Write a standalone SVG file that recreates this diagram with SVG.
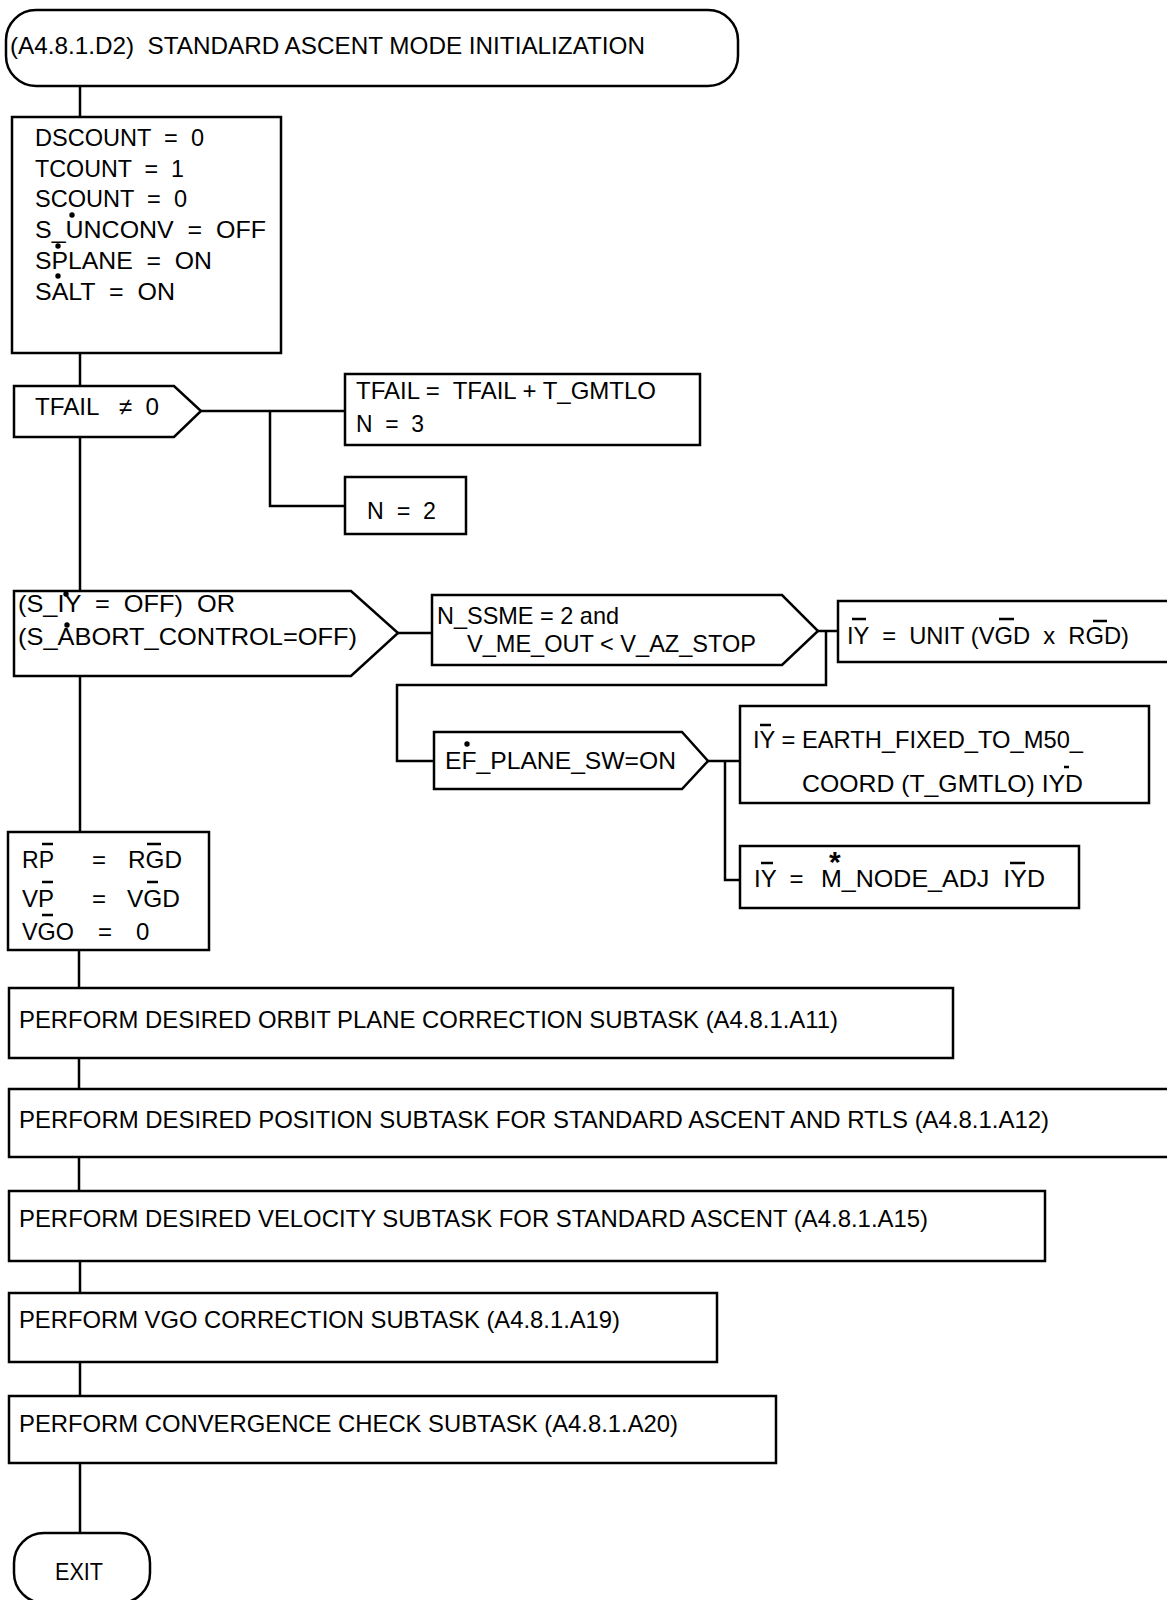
<svg xmlns="http://www.w3.org/2000/svg" width="1167" height="1600" viewBox="0 0 1167 1600">
<style>
.n{fill:#fff;stroke:#000;stroke-width:2.5}
.c{fill:none;stroke:#000;stroke-width:2.5}
.b{stroke:#000;stroke-width:2.5}
.t{font-family:"Liberation Sans",Arial,sans-serif;font-size:24px;fill:#000}
.d{fill:#000}
</style>
<rect width="1167" height="1600" fill="#fff"/>
<g id="connectors">
<path class="c" d="M80,86V117 M80,353V386 M80,437V591 M80,676V832 M79,950V988 M79,1058V1089 M79,1157V1191 M80,1261V1293 M80,1362V1396 M80,1463V1533"/>
<path class="c" d="M201,411H345 M270,411V506H345"/>
<path class="c" d="M398,633H432"/>
<path class="c" d="M818,631H838 M826,631V685H397V761H434"/>
<path class="c" d="M708,761H740 M725,761V880H740"/>
</g>
<g id="start">
<rect class="n" x="6" y="10" width="732" height="76" rx="30" ry="30"/>
<text class="t" x="10" y="54" font-size="25" textLength="635" lengthAdjust="spacingAndGlyphs" xml:space="preserve">(A4.8.1.D2)  STANDARD ASCENT MODE INITIALIZATION</text>
</g>
<g id="init">
<rect class="n" x="12" y="117" width="269" height="236"/>
<text class="t" x="35" y="146" textLength="169" lengthAdjust="spacingAndGlyphs" xml:space="preserve">DSCOUNT  =  0</text>
<text class="t" x="35" y="177" textLength="149" lengthAdjust="spacingAndGlyphs" xml:space="preserve">TCOUNT  =  1</text>
<text class="t" x="35" y="207" textLength="152" lengthAdjust="spacingAndGlyphs" xml:space="preserve">SCOUNT  =  0</text>
<text class="t" x="35" y="238" textLength="231" lengthAdjust="spacingAndGlyphs" xml:space="preserve">S_UNCONV  =  OFF</text>
<text class="t" x="35" y="269" textLength="177" lengthAdjust="spacingAndGlyphs" xml:space="preserve">SPLANE  =  ON</text>
<text class="t" x="35" y="300" textLength="140" lengthAdjust="spacingAndGlyphs" xml:space="preserve">SALT  =  ON</text>
<circle class="d" cx="72" cy="215" r="2.7"/>
<circle class="d" cx="58" cy="246" r="2.7"/>
<circle class="d" cx="58" cy="276" r="2.7"/>
</g>
<g id="tfail-check">
<polygon class="n" points="14,386 174,386 201,411 174,437 14,437"/>
<text class="t" x="35" y="415" textLength="124" lengthAdjust="spacingAndGlyphs" xml:space="preserve">TFAIL   ≠  0</text>
</g>
<g id="tfail-set">
<rect class="n" x="345" y="374" width="355" height="71"/>
<text class="t" x="356" y="399" textLength="300" lengthAdjust="spacingAndGlyphs" xml:space="preserve">TFAIL =  TFAIL + T_GMTLO</text>
<text class="t" x="356" y="432" textLength="68" lengthAdjust="spacingAndGlyphs" xml:space="preserve">N  =  3</text>
</g>
<g id="n2">
<rect class="n" x="345" y="477" width="121" height="57"/>
<text class="t" x="367" y="519" textLength="69" lengthAdjust="spacingAndGlyphs" xml:space="preserve">N  =  2</text>
</g>
<g id="iy-check">
<polygon class="n" points="14,591 351,591 398,633 351,676 14,676"/>
<text class="t" x="18" y="612" textLength="217" lengthAdjust="spacingAndGlyphs" xml:space="preserve">(S_IY  =  OFF)  OR</text>
<text class="t" x="18" y="645" textLength="339" lengthAdjust="spacingAndGlyphs">(S_ABORT_CONTROL=OFF)</text>
<circle class="d" cx="66" cy="594" r="2.7"/>
<circle class="d" cx="67" cy="625" r="2.7"/>
</g>
<g id="ssme-check">
<polygon class="n" points="432,595 782,595 818,631 782,665 432,665"/>
<text class="t" x="437" y="624" textLength="182" lengthAdjust="spacingAndGlyphs">N_SSME = 2 and</text>
<text class="t" x="467" y="652" textLength="289" lengthAdjust="spacingAndGlyphs">V_ME_OUT &lt; V_AZ_STOP</text>
</g>
<g id="iy-unit">
<rect class="n" x="838" y="601" width="340" height="61"/>
<text class="t" x="847" y="644" textLength="282" lengthAdjust="spacingAndGlyphs" xml:space="preserve">IY  =  UNIT (VGD  x  RGD)</text>
<path class="b" d="M852,619H866 M999,619H1014 M1093,621H1107"/>
</g>
<g id="ef-check">
<polygon class="n" points="434,732 682,732 708,761 682,789 434,789"/>
<text class="t" x="445" y="769" textLength="231" lengthAdjust="spacingAndGlyphs">EF_PLANE_SW=ON</text>
<circle class="d" cx="467" cy="744" r="2.7"/>
</g>
<g id="iy-earth">
<rect class="n" x="740" y="706" width="409" height="97"/>
<text class="t" x="753" y="748" textLength="330" lengthAdjust="spacingAndGlyphs">IY = EARTH_FIXED_TO_M50_</text>
<text class="t" x="802" y="792" textLength="281" lengthAdjust="spacingAndGlyphs">COORD (T_GMTLO) IYD</text>
<path class="b" d="M760,725H771 M1064,767H1069"/>
</g>
<g id="iy-node">
<rect class="n" x="740" y="846" width="339" height="62"/>
<text class="t" xml:space="preserve"><tspan x="754" y="887">IY  =  </tspan><tspan x="829" y="872" font-size="30" font-weight="bold">*</tspan><tspan x="821" y="887" textLength="224" lengthAdjust="spacingAndGlyphs">M_NODE_ADJ  IYD</tspan></text>
<path class="b" d="M761,863H773 M1010,863H1025"/>
</g>
<g id="rp-init">
<rect class="n" x="8" y="832" width="201" height="118"/>
<text class="t" x="22" y="868" textLength="32" lengthAdjust="spacingAndGlyphs">RP</text>
<text class="t" x="92" y="868">=</text>
<text class="t" x="128" y="868" textLength="54" lengthAdjust="spacingAndGlyphs">RGD</text>
<text class="t" x="22" y="907" textLength="32" lengthAdjust="spacingAndGlyphs">VP</text>
<text class="t" x="92" y="907">=</text>
<text class="t" x="127" y="907" textLength="53" lengthAdjust="spacingAndGlyphs">VGD</text>
<text class="t" x="22" y="940" textLength="52" lengthAdjust="spacingAndGlyphs">VGO</text>
<text class="t" x="98" y="940">=</text>
<text class="t" x="136" y="940">0</text>
<path class="b" d="M42,844H53 M147,844H161 M42,882H53 M147,882H158 M42,915H53"/>
</g>
<g id="a11">
<rect class="n" x="9" y="988" width="944" height="70"/>
<text class="t" x="19" y="1028" textLength="819" lengthAdjust="spacingAndGlyphs">PERFORM DESIRED ORBIT PLANE CORRECTION SUBTASK (A4.8.1.A11)</text>
</g>
<g id="a12">
<rect class="n" x="9" y="1089" width="1170" height="68"/>
<text class="t" x="19" y="1128" textLength="1030" lengthAdjust="spacingAndGlyphs">PERFORM DESIRED POSITION SUBTASK FOR STANDARD ASCENT AND RTLS (A4.8.1.A12)</text>
</g>
<g id="a15">
<rect class="n" x="9" y="1191" width="1036" height="70"/>
<text class="t" x="19" y="1227" textLength="909" lengthAdjust="spacingAndGlyphs">PERFORM DESIRED VELOCITY SUBTASK FOR STANDARD ASCENT (A4.8.1.A15)</text>
</g>
<g id="a19">
<rect class="n" x="9" y="1293" width="708" height="69"/>
<text class="t" x="19" y="1328" textLength="601" lengthAdjust="spacingAndGlyphs">PERFORM VGO CORRECTION SUBTASK (A4.8.1.A19)</text>
</g>
<g id="a20">
<rect class="n" x="9" y="1396" width="767" height="67"/>
<text class="t" x="19" y="1432" textLength="659" lengthAdjust="spacingAndGlyphs">PERFORM CONVERGENCE CHECK SUBTASK (A4.8.1.A20)</text>
</g>
<g id="exit">
<rect class="n" x="14" y="1533" width="136" height="70" rx="30" ry="30"/>
<text class="t" x="55" y="1580" textLength="48" lengthAdjust="spacingAndGlyphs">EXIT</text>
</g>
</svg>
